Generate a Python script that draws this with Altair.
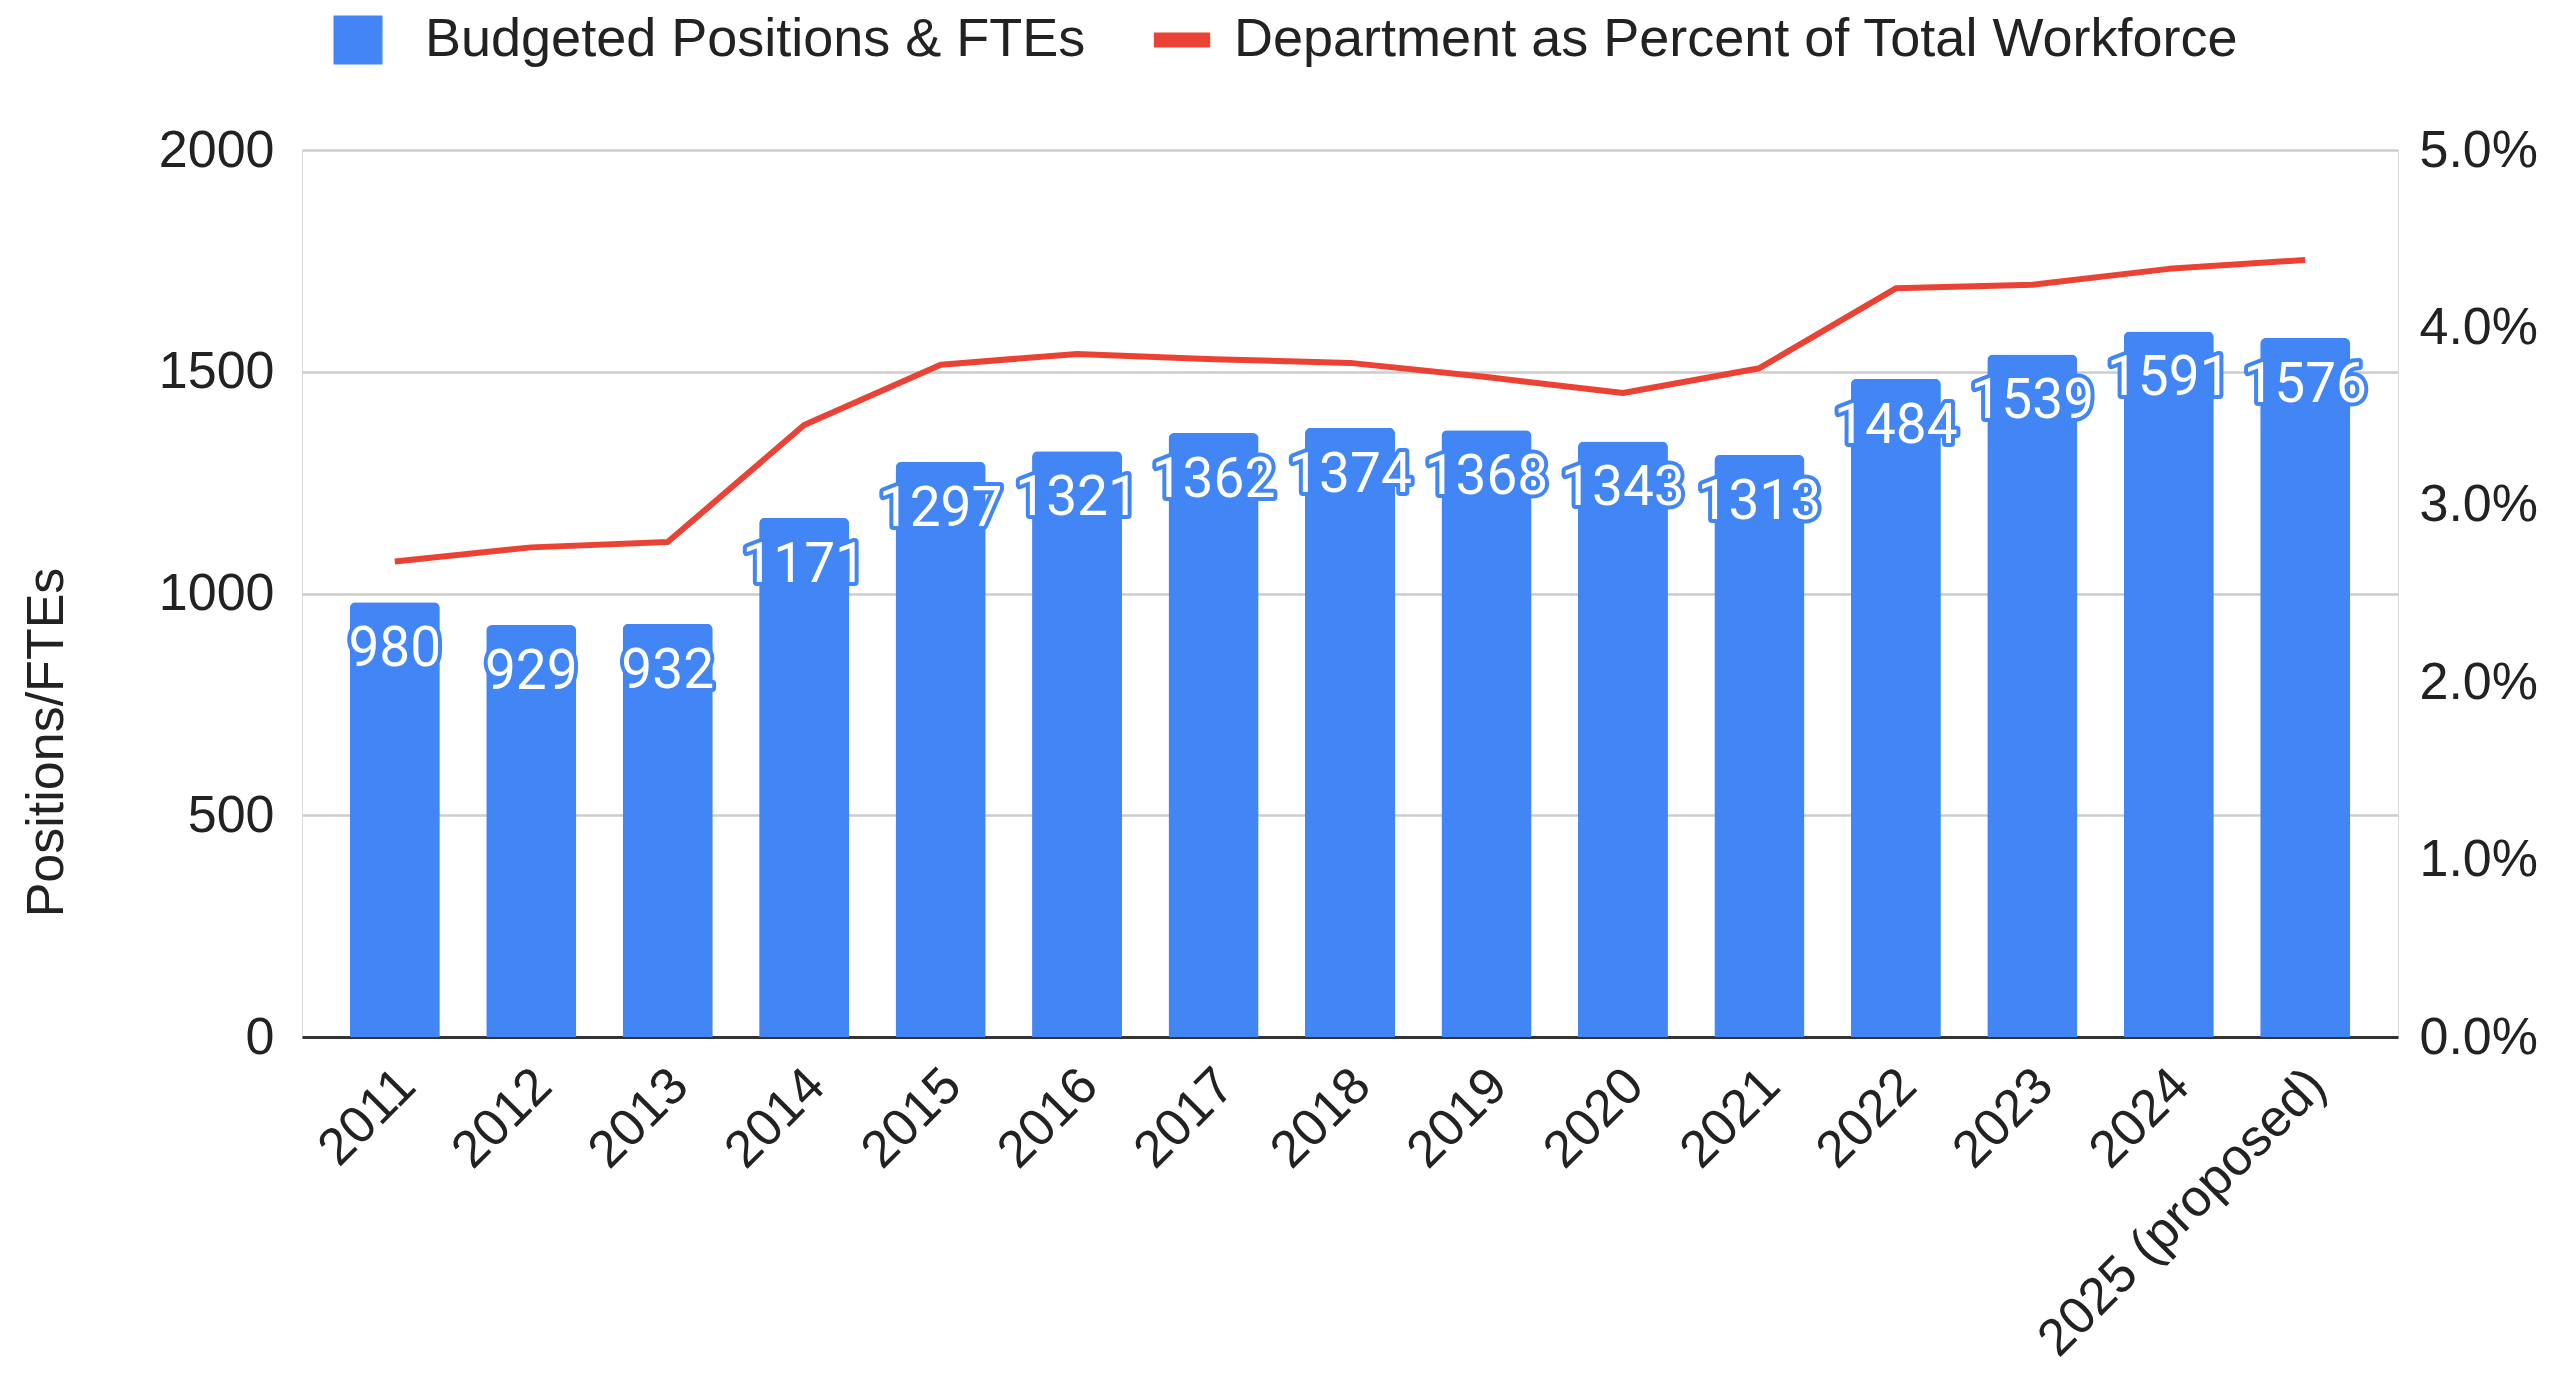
import altair as alt
import pandas as pd

years = ["2011", "2012", "2013", "2014", "2015", "2016", "2017", "2018",
         "2019", "2020", "2021", "2022", "2023", "2024", "2025 (proposed)"]
positions = [980, 929, 932, 1171, 1297, 1321, 1362, 1374, 1368, 1343, 1313,
             1484, 1539, 1591, 1576]
pct_values = [2.68, 2.76, 2.79, 3.45, 3.79, 3.85, 3.82, 3.80, 3.72, 3.63,
              3.77, 4.22, 4.24, 4.33, 4.38]
left_ticks = [0, 500, 1000, 1500, 2000]
right_ticks = [0.0, 0.01, 0.02, 0.03, 0.04, 0.05]

bar_series = "Budgeted Positions & FTEs"
line_series = "Department as Percent of Total Workforce"

BLUE = "#4285F4"
RED = "#EA4335"
TXT = "#222222"
AX_FONT = "Liberation Sans"

df = pd.DataFrame({
    "year": years,
    "positions": positions,
    "pct": [p / 100 for p in pct_values],
    "bar_series": [bar_series] * len(years),
    "line_series": [line_series] * len(years),
})

x_enc = alt.X(
    "year:N", sort=years, title=None,
    scale=alt.Scale(paddingInner=0.34, paddingOuter=0.35),
    axis=alt.Axis(labelAngle=-45, labelAlign="right", labelBaseline="middle",
                  labelFontSize=52, labelFont=AX_FONT, labelColor=TXT,
                  labelPadding=40, labelOffset=12, ticks=False,
                  domain=True, domainColor="#333333", domainWidth=3,
                  grid=False, labelLimit=0),
)

y_left = alt.Y(
    "positions:Q", title="Positions/FTEs",
    scale=alt.Scale(domain=[0, 2000], nice=False),
    axis=alt.Axis(values=left_ticks, format="d", labelFontSize=52,
                  labelFont=AX_FONT, labelColor=TXT, labelPadding=28,
                  ticks=False, domain=False, grid=True, gridColor="#cccccc",
                  gridWidth=2.5, titleFontSize=52, titleFont=AX_FONT,
                  titleFontWeight="normal", titleColor=TXT, titleAngle=-90,
                  titleX=-256, titleY=592, titleAlign="center",
                  titleBaseline="middle"),
)

bar_legend = alt.Legend(
    title=None, orient="none", direction="horizontal",
    legendX=29, legendY=-137, symbolSize=2401,
    symbolType="M-1,-1H1V1H-1Z", symbolStrokeWidth=0, symbolOpacity=1,
    labelFontSize=54, labelFont=AX_FONT, labelColor=TXT, labelLimit=0,
    labelOffset=40,
)
line_legend = alt.Legend(
    title=None, orient="none", direction="horizontal",
    legendX=848, legendY=-142, symbolSize=2401,
    symbolType="M-1.15,0H1.15", symbolStrokeWidth=15, symbolOpacity=1,
    labelFontSize=54, labelFont=AX_FONT, labelColor=TXT, labelLimit=0,
    labelOffset=20,
)

bars = alt.Chart(df).mark_bar(
    cornerRadiusTopLeft=6, cornerRadiusTopRight=6
).encode(
    x=x_enc, y=y_left,
    color=alt.Color("bar_series:N",
                    scale=alt.Scale(domain=[bar_series], range=[BLUE]),
                    legend=bar_legend),
)

halo = alt.Chart(df).mark_text(
    font="Roboto", fontSize=55, dy=47, baseline="middle", align="center",
    fill=BLUE, stroke=BLUE, strokeWidth=8, strokeJoin="round",
).encode(x=x_enc, y=y_left, text=alt.Text("positions:Q", format="d"))

labels = alt.Chart(df).mark_text(
    font="Roboto", fontSize=55, dy=47, baseline="middle", align="center",
    fill="white",
).encode(x=x_enc, y=y_left, text=alt.Text("positions:Q", format="d"))

left_layer = alt.layer(bars, halo, labels)

line = alt.Chart(df).mark_line(strokeWidth=6, strokeJoin="round").encode(
    x=x_enc,
    y=alt.Y("pct:Q", title=None,
            scale=alt.Scale(domain=[0, 0.05], nice=False),
            axis=alt.Axis(orient="right", values=right_ticks, format=".1%",
                          labelFontSize=52, labelFont=AX_FONT, labelColor=TXT,
                          labelPadding=21, ticks=False, domain=False,
                          grid=False)),
    stroke=alt.Stroke("line_series:N",
                      scale=alt.Scale(domain=[line_series], range=[RED]),
                      legend=line_legend),
)

chart = alt.layer(left_layer, line).resolve_scale(
    y="independent", color="independent", stroke="independent"
).properties(
    width=2096, height=887,
    autosize=alt.AutoSizeParams(type="none"),
    padding={"left": 294, "top": 142, "right": 150, "bottom": 329},
).configure_view(strokeWidth=0).configure(background="white")

chart.save("out.html", embed_options={"renderer": "svg", "actions": False})
